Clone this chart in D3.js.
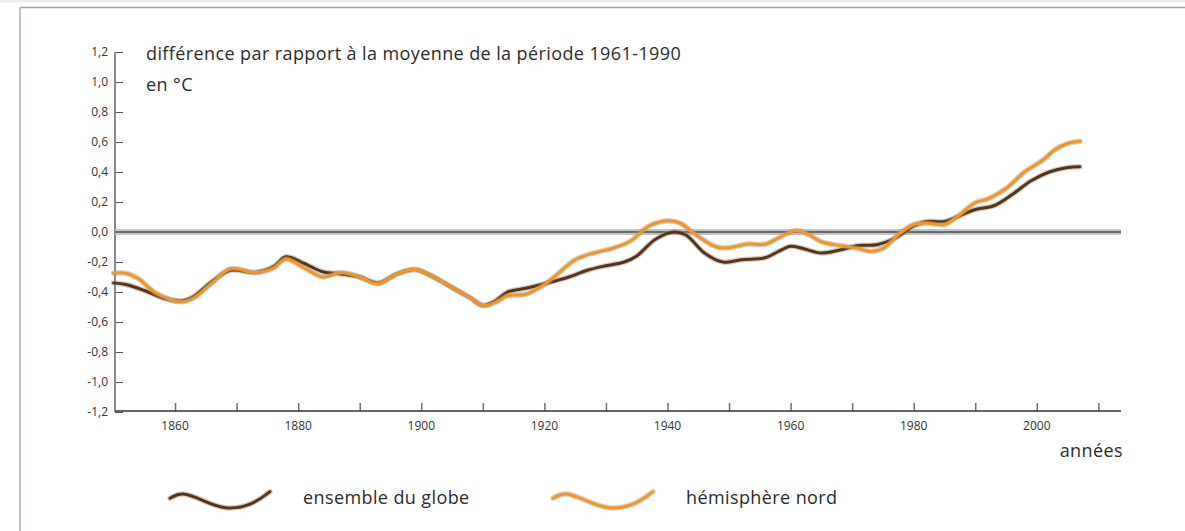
<!DOCTYPE html>
<html>
<head>
<meta charset="utf-8">
<script src="https://cdn.jsdelivr.net/npm/d3@7"></script>
<style>
  body { margin: 0; background: #fff; }
  svg { display: block; font-family: 'Open Sans', sans-serif; }
  .tick-label { fill: #333; font-size: 12px; }
  .title { fill: #2b2b2b; font-size: 18px; letter-spacing: 0.4px; }
  .legend-label { fill: #2b2b2b; font-size: 18px; letter-spacing: 0.4px; }
</style>
</head>
<body>
<svg id="chart"></svg>
<script>
// years
const globeYears = [1850, 1852, 1855, 1858, 1861, 1863, 1866, 1869, 1873, 1876, 1878, 1881, 1884, 1887, 1890, 1893, 1896, 1899,
  1902, 1905, 1908, 1910, 1912, 1914, 1917, 1920, 1924, 1927, 1930, 1933, 1935, 1938, 1941, 1943, 1946, 1949, 1952, 1956,
  1958, 1960, 1962, 1965, 1968, 1971, 1974, 1977, 1980, 1982, 1985, 1987, 1990, 1993, 1996, 1999, 2002, 2005, 2007];
const globeValues = [-0.34, -0.35, -0.39, -0.44, -0.46, -0.43, -0.33, -0.255, -0.27, -0.23, -0.165, -0.21, -0.265, -0.28, -0.30, -0.34, -0.28, -0.25,
  -0.30, -0.37, -0.44, -0.49, -0.46, -0.40, -0.375, -0.345, -0.30, -0.255, -0.225, -0.20, -0.16, -0.05, 0.0, -0.02, -0.14, -0.20, -0.185, -0.17,
  -0.13, -0.095, -0.11, -0.14, -0.12, -0.09, -0.085, -0.04, 0.04, 0.07, 0.07, 0.10, 0.15, 0.175, 0.25, 0.34, 0.40, 0.43, 0.435];

const northYears = [1850, 1852, 1854, 1857, 1861, 1863, 1866, 1869, 1873, 1876, 1878, 1881, 1884, 1887, 1890, 1893, 1896, 1899,
  1902, 1905, 1908, 1910, 1912, 1914, 1917, 1920, 1923, 1925, 1928, 1931, 1934, 1937, 1940, 1942, 1945, 1948, 1950, 1953,
  1956, 1958, 1961, 1963, 1965, 1968, 1971, 1973, 1975, 1978, 1980, 1982, 1985, 1987, 1990, 1992, 1995, 1998, 2001, 2003, 2005, 2007];
const northValues = [-0.275, -0.275, -0.31, -0.41, -0.465, -0.44, -0.34, -0.245, -0.27, -0.24, -0.18, -0.24, -0.30, -0.27, -0.30, -0.345, -0.28, -0.25,
  -0.30, -0.37, -0.44, -0.49, -0.47, -0.425, -0.415, -0.35, -0.25, -0.185, -0.14, -0.11, -0.06, 0.04, 0.075, 0.06, -0.03, -0.10, -0.105, -0.08,
  -0.08, -0.04, 0.01, -0.02, -0.065, -0.09, -0.11, -0.13, -0.11, 0.0, 0.05, 0.06, 0.05, 0.10, 0.195, 0.22, 0.29, 0.40, 0.48, 0.55, 0.59, 0.605];

const xTicks = d3.range(1860, 2011, 10);
const xLabels = [1860, 1880, 1900, 1920, 1940, 1960, 1980, 2000];
const yTicks = [-1.2, -1.0, -0.8, -0.6, -0.4, -0.2, 0.0, 0.2, 0.4, 0.6, 0.8, 1.0, 1.2];

const seriesNames = ['ensemble du globe', 'hémisphère nord'];
const seriesColors = ['#5a3412', '#f7941d'];

const width = 1185, height = 531;
const plot = { left: 115, right: 1121, top: 52, bottom: 412 };

const svg = d3.select('#chart')
  .attr('width', width)
  .attr('height', height);

// frame
svg.append('rect').attr('x', 0).attr('y', 0).attr('width', width).attr('height', 2.5).attr('fill', '#ebedeb');
svg.append('line')
  .attr('x1', 20).attr('x2', width).attr('y1', 7.5).attr('y2', 7.5)
  .attr('stroke', '#8fae8c').attr('stroke-width', 1.5);
svg.append('line')
  .attr('x1', 20).attr('x2', 20).attr('y1', 7).attr('y2', height)
  .attr('stroke', '#b3cbb3').attr('stroke-width', 2);

const xScale = d3.scaleLinear()
  .domain([1850, 2014])
  .range([113.5, 1123]);

const yScale = d3.scaleLinear()
  .domain([-1.2, 1.2])
  .range([plot.bottom, plot.top]);

// y axis
const yAxis = d3.axisRight(yScale)
  .tickValues(yTicks)
  .tickSize(8)
  .tickFormat('');

svg.append('g')
  .attr('transform', `translate(${plot.left},0)`)
  .call(yAxis)
  .call(g => g.select('.domain').remove())
  .call(g => g.selectAll('.tick line').attr('stroke', '#555').attr('stroke-width', 1));

svg.append('line')
  .attr('x1', plot.left).attr('x2', plot.left)
  .attr('y1', plot.top).attr('y2', plot.bottom)
  .attr('stroke', '#8a8a8a').attr('stroke-width', 2);

svg.selectAll('.y-label')
  .data(yTicks)
  .join('text')
  .attr('class', 'tick-label y-label')
  .attr('x', 108)
  .attr('y', d => yScale(d))
  .attr('dy', '0.35em')
  .attr('text-anchor', 'end')
  .text(d => d3.format('.1f')(d).replace('.', ',').replace('−', '-'));

// x axis
const xAxis = d3.axisTop(xScale)
  .tickValues(xTicks)
  .tickSize(8)
  .tickFormat('');

svg.append('g')
  .attr('transform', `translate(0,${plot.bottom - 1})`)
  .call(xAxis)
  .call(g => g.select('.domain').remove())
  .call(g => g.selectAll('.tick line').attr('stroke', '#6e6e6e').attr('stroke-width', 1.5));

svg.append('line')
  .attr('x1', plot.left).attr('x2', plot.right)
  .attr('y1', plot.bottom - 1).attr('y2', plot.bottom - 1)
  .attr('stroke', '#333').attr('stroke-width', 1.3);

svg.selectAll('.x-label')
  .data(xLabels)
  .join('text')
  .attr('class', 'tick-label x-label')
  .attr('x', d => xScale(d))
  .attr('y', 430)
  .attr('text-anchor', 'middle')
  .text(d => d);

// zero reference line
svg.append('line')
  .attr('x1', plot.left).attr('x2', plot.right)
  .attr('y1', yScale(0)).attr('y2', yScale(0))
  .attr('stroke', '#c4c4c4').attr('stroke-width', 6);
svg.append('line')
  .attr('x1', plot.left).attr('x2', plot.right)
  .attr('y1', yScale(0)).attr('y2', yScale(0))
  .attr('stroke', '#6a6a6a').attr('stroke-width', 2.2);

// series
const line = d3.line()
  .x(d => xScale(d[0]))
  .y(d => yScale(d[1]))
  .curve(d3.curveCatmullRom.alpha(0.5));

const series = [
  d3.zip(globeYears, globeValues),
  d3.zip(northYears, northValues)
];

series.forEach((s, i) => {
  svg.append('path')
    .datum(s)
    .attr('d', line)
    .attr('fill', 'none')
    .attr('stroke', '#9a9a9a')
    .attr('stroke-opacity', 0.45)
    .attr('stroke-width', 5.5)
    .attr('stroke-linecap', 'round');
  svg.append('path')
    .datum(s)
    .attr('d', line)
    .attr('fill', 'none')
    .attr('stroke', seriesColors[i])
    .attr('stroke-width', 3)
    .attr('stroke-linecap', 'round');
});

// titles
svg.append('text').attr('class', 'title').attr('x', 146).attr('y', 60).text('différence par rapport à la moyenne de la période 1961-1990');
svg.append('text').attr('class', 'title').attr('x', 146).attr('y', 91).text('en °C');
svg.append('text').attr('class', 'title').attr('x', 1123).attr('y', 457).attr('text-anchor', 'end').text('années');

// legend glyph: a small wave
const waveShape = [[0, 0.1], [0.12, -0.45], [0.32, 0.25], [0.55, 1.1], [0.82, 0.7], [1, -0.45]];
const wave = d3.line()
  .x(d => d[0] * 100)
  .y(d => d[1] * 12)
  .curve(d3.curveBasis);

const legendX = [170, 553];
const legend = svg.selectAll('.legend')
  .data(seriesNames)
  .join('g')
  .attr('class', 'legend')
  .attr('transform', (d, i) => `translate(${legendX[i]},497)`);

legend.append('path')
  .attr('d', wave(waveShape))
  .attr('fill', 'none')
  .attr('stroke', '#9a9a9a')
  .attr('stroke-opacity', 0.45)
  .attr('stroke-width', 5.5)
  .attr('stroke-linecap', 'round');

legend.append('path')
  .attr('d', wave(waveShape))
  .attr('fill', 'none')
  .attr('stroke', (d, i) => seriesColors[i])
  .attr('stroke-width', 3)
  .attr('stroke-linecap', 'round');

legend.append('text')
  .attr('class', 'legend-label')
  .attr('x', 133)
  .attr('y', 7)
  .text(d => d);
</script>
</body>
</html>
